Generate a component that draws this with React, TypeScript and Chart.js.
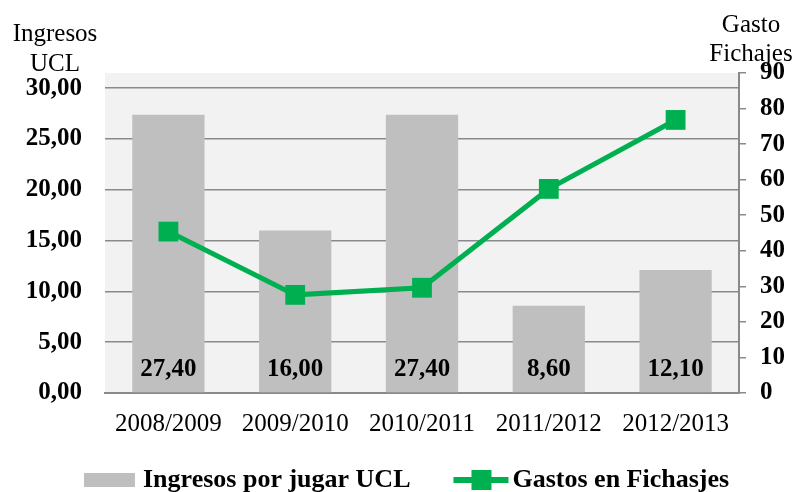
import React, { useEffect, useRef } from 'react';
import { Chart, registerables } from 'chart.js';

Chart.register(...registerables);

const categories = ['2008/2009', '2009/2010', '2010/2011', '2011/2012', '2012/2013'];
const ingresosUCL = [27.4, 16.0, 27.4, 8.6, 12.1];
const gastosFichajes = [45.4, 27.6, 29.6, 57.4, 76.8];
const leftTicks = [0, 5, 10, 15, 20, 25, 30];
const rightTicks = [0, 10, 20, 30, 40, 50, 60, 70, 80, 90];
const barLabel = 'Ingresos por jugar UCL';
const lineLabel = 'Gastos en Fichasjes';
const leftTitle = ['Ingresos', 'UCL'];
const rightTitle = ['Gasto', 'Fichajes'];

const FAMILY = "'Liberation Serif', 'Times New Roman', serif";
const BAR_COLOR = '#bfbfbf';
const LINE_COLOR = '#00b050';
const GRID_COLOR = '#8a8a8a';

const fmt2 = (v: number) => v.toFixed(2).replace('.', ',');

const plotBg = {
  id: 'plotBg',
  beforeDraw(chart: any) {
    const { ctx, chartArea } = chart;
    ctx.save();
    ctx.fillStyle = '#f2f2f2';
    ctx.fillRect(chartArea.left, chartArea.top, chartArea.right - chartArea.left, chartArea.bottom - chartArea.top);
    ctx.restore();
  },
};

const barValueLabels = {
  id: 'barValueLabels',
  afterDatasetsDraw(chart: any) {
    const { ctx, chartArea } = chart;
    const meta = chart.getDatasetMeta(0);
    ctx.save();
    ctx.font = `bold 25px ${FAMILY}`;
    ctx.fillStyle = '#000';
    ctx.textAlign = 'center';
    ctx.textBaseline = 'alphabetic';
    meta.data.forEach((el: any, i: number) => {
      ctx.fillText(fmt2(ingresosUCL[i]), el.x, chartArea.bottom - 17);
    });
    ctx.restore();
  },
};

const axisTitles = {
  id: 'axisTitles',
  afterDraw(chart: any) {
    const { ctx } = chart;
    const yl = chart.scales.y;
    const yr = chart.scales.y2;
    ctx.save();
    ctx.font = `25px ${FAMILY}`;
    ctx.fillStyle = '#000';
    ctx.textAlign = 'center';
    ctx.textBaseline = 'alphabetic';
    const lx = yl.left + 55;
    ctx.fillText(leftTitle[0], lx, yl.top - 32);
    ctx.fillText(leftTitle[1], lx, yl.top - 2);
    const rx = yr.left + 12;
    ctx.fillText(rightTitle[0], rx, yr.top - 41);
    ctx.fillText(rightTitle[1], rx, yr.top - 12);
    ctx.restore();
  },
};

const customLegend = {
  id: 'customLegend',
  afterDraw(chart: any) {
    const { ctx } = chart;
    const ds = chart.data.datasets;
    const baseline = chart.height - 5;
    const midY = baseline - 7;
    ctx.save();
    ctx.font = `bold 26px ${FAMILY}`;
    ctx.fillStyle = '#000';
    ctx.textBaseline = 'alphabetic';
    ctx.textAlign = 'left';
    let x = 84;
    // bar swatch
    ctx.fillStyle = ds[0].backgroundColor;
    ctx.fillRect(x, midY - 7, 51, 14);
    x += 51 + 8;
    ctx.fillStyle = '#000';
    ctx.fillText(ds[0].label, x, baseline);
    x += ctx.measureText(ds[0].label).width + 43;
    // line swatch
    ctx.fillStyle = ds[1].borderColor;
    ctx.fillRect(x, midY - 3, 55, 6);
    ctx.fillRect(x + 18, midY - 10, 20, 20);
    x += 55 + 4;
    ctx.fillStyle = '#000';
    ctx.fillText(ds[1].label, x, baseline);
    ctx.restore();
  },
};

export default function App() {
  const ref = useRef<HTMLCanvasElement | null>(null);

  useEffect(() => {
    document.body.style.margin = '0';
    const chart = new Chart(ref.current!, {
      type: 'bar',
      data: {
        labels: categories,
        datasets: [
          {
            type: 'bar',
            label: barLabel,
            data: ingresosUCL,
            backgroundColor: BAR_COLOR,
            yAxisID: 'y',
            order: 1,
            categoryPercentage: 1,
            barPercentage: 0.57,
          },
          {
            type: 'line',
            label: lineLabel,
            data: gastosFichajes,
            borderColor: LINE_COLOR,
            backgroundColor: LINE_COLOR,
            borderWidth: 5,
            pointStyle: 'rect',
            pointRadius: 14,
            pointBorderWidth: 0,
            pointBackgroundColor: LINE_COLOR,
            yAxisID: 'y2',
            order: 0,
            tension: 0,
          },
        ] as any,
      },
      options: {
        animation: false,
        responsive: false,
        layout: { padding: { top: 73, left: 0, right: 0, bottom: 47 } },
        plugins: {
          tooltip: { enabled: false },
          legend: { display: false },
        },
        scales: {
          x: {
            grid: { display: false },
            border: { display: true, color: GRID_COLOR, width: 2 },
            ticks: {
              color: '#000',
              font: { family: FAMILY, size: 25 },
              padding: 8,
              maxRotation: 0,
            },
            afterFit: (s: any) => {
              s.height = 52;
            },
          },
          y: {
            position: 'left',
            min: 0,
            max: 31.5,
            afterBuildTicks: (s: any) => {
              s.ticks = leftTicks.map((v) => ({ value: v }));
            },
            grid: { color: GRID_COLOR, lineWidth: 1.5, drawTicks: false },
            border: { display: false },
            ticks: {
              color: '#000',
              font: { family: FAMILY, size: 25, weight: 'bold' },
              padding: 23,
              callback: (v: any) => fmt2(Number(v)),
            },
            afterFit: (s: any) => {
              s.width = 105;
            },
          },
          y2: {
            position: 'right',
            min: 0,
            max: 90,
            afterBuildTicks: (s: any) => {
              s.ticks = rightTicks.map((v) => ({ value: v }));
            },
            grid: { drawOnChartArea: false, color: GRID_COLOR, lineWidth: 1.5, tickLength: 7 },
            border: { display: true, color: GRID_COLOR, width: 2 },
            ticks: {
              color: '#000',
              font: { family: FAMILY, size: 25, weight: 'bold' },
              padding: 14,
              callback: (v: any) => String(v),
            },
            afterFit: (s: any) => {
              s.width = 59;
            },
          },
        },
      } as any,
      plugins: [plotBg, barValueLabels, axisTitles, customLegend],
    });
    return () => chart.destroy();
  }, []);

  return (
    <div style={{ width: 798, height: 492 }}>
      <canvas ref={ref} width={798} height={492} />
    </div>
  );
}
